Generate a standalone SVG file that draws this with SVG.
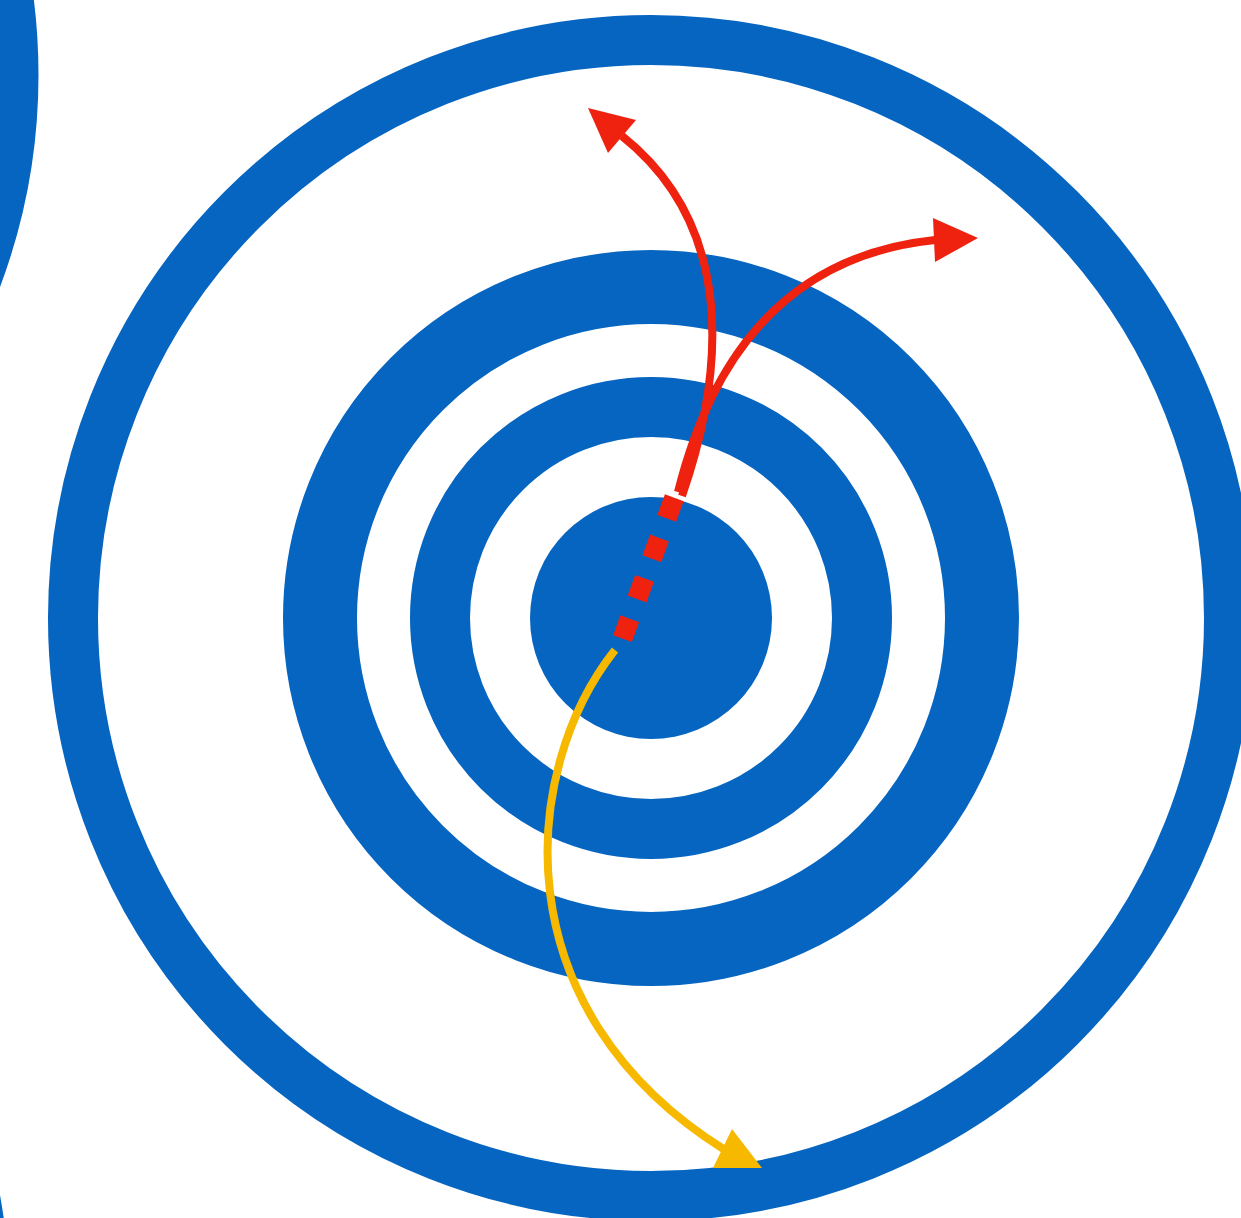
<svg xmlns="http://www.w3.org/2000/svg" width="1241" height="1218" viewBox="0 0 1241 1218">
<style>
.ring{fill:none;stroke:#0565C0}
.red{fill:none;stroke:#EE220F;stroke-width:8}
.yel{fill:none;stroke:#F7B900;stroke-width:8}
</style>
<rect width="1241" height="1218" fill="#fff"/>
<g id="side-ring-top"><circle class="ring" cx="-564" cy="75" r="578" stroke-width="49"/></g>
<g id="side-ring-bottom"><circle class="ring" cx="-593" cy="1302" r="578" stroke-width="49"/></g>
<g id="outer-ring"><circle class="ring" cx="651" cy="618" r="578" stroke-width="50"/></g>
<g id="ring-2"><circle class="ring" cx="651" cy="618" r="331" stroke-width="74"/></g>
<g id="ring-3"><circle class="ring" cx="651" cy="618" r="211" stroke-width="60"/></g>
<g id="core"><circle cx="651" cy="618" r="121" fill="#0565C0"/></g>
<g id="connectors">
<path d="M674.3,497.7 L622.5,638.6" fill="none" stroke="#EE220F" stroke-width="20" stroke-dasharray="22 21"/>
<path class="red" d="M682,496 C722,380 740,230 622,136"/>
<polygon points="588,108 636,120 608,153" fill="#EE220F"/>
<path class="red" d="M678,492 C713,352 790,255 935,240"/>
<polygon points="933,218 978,238 935,262" fill="#EE220F"/>
<path class="yel" d="M615,650 C520,770 500,1010 725,1150"/>
<polygon points="732,1129 762,1168 713,1168" fill="#F7B900"/>
</g>
</svg>
